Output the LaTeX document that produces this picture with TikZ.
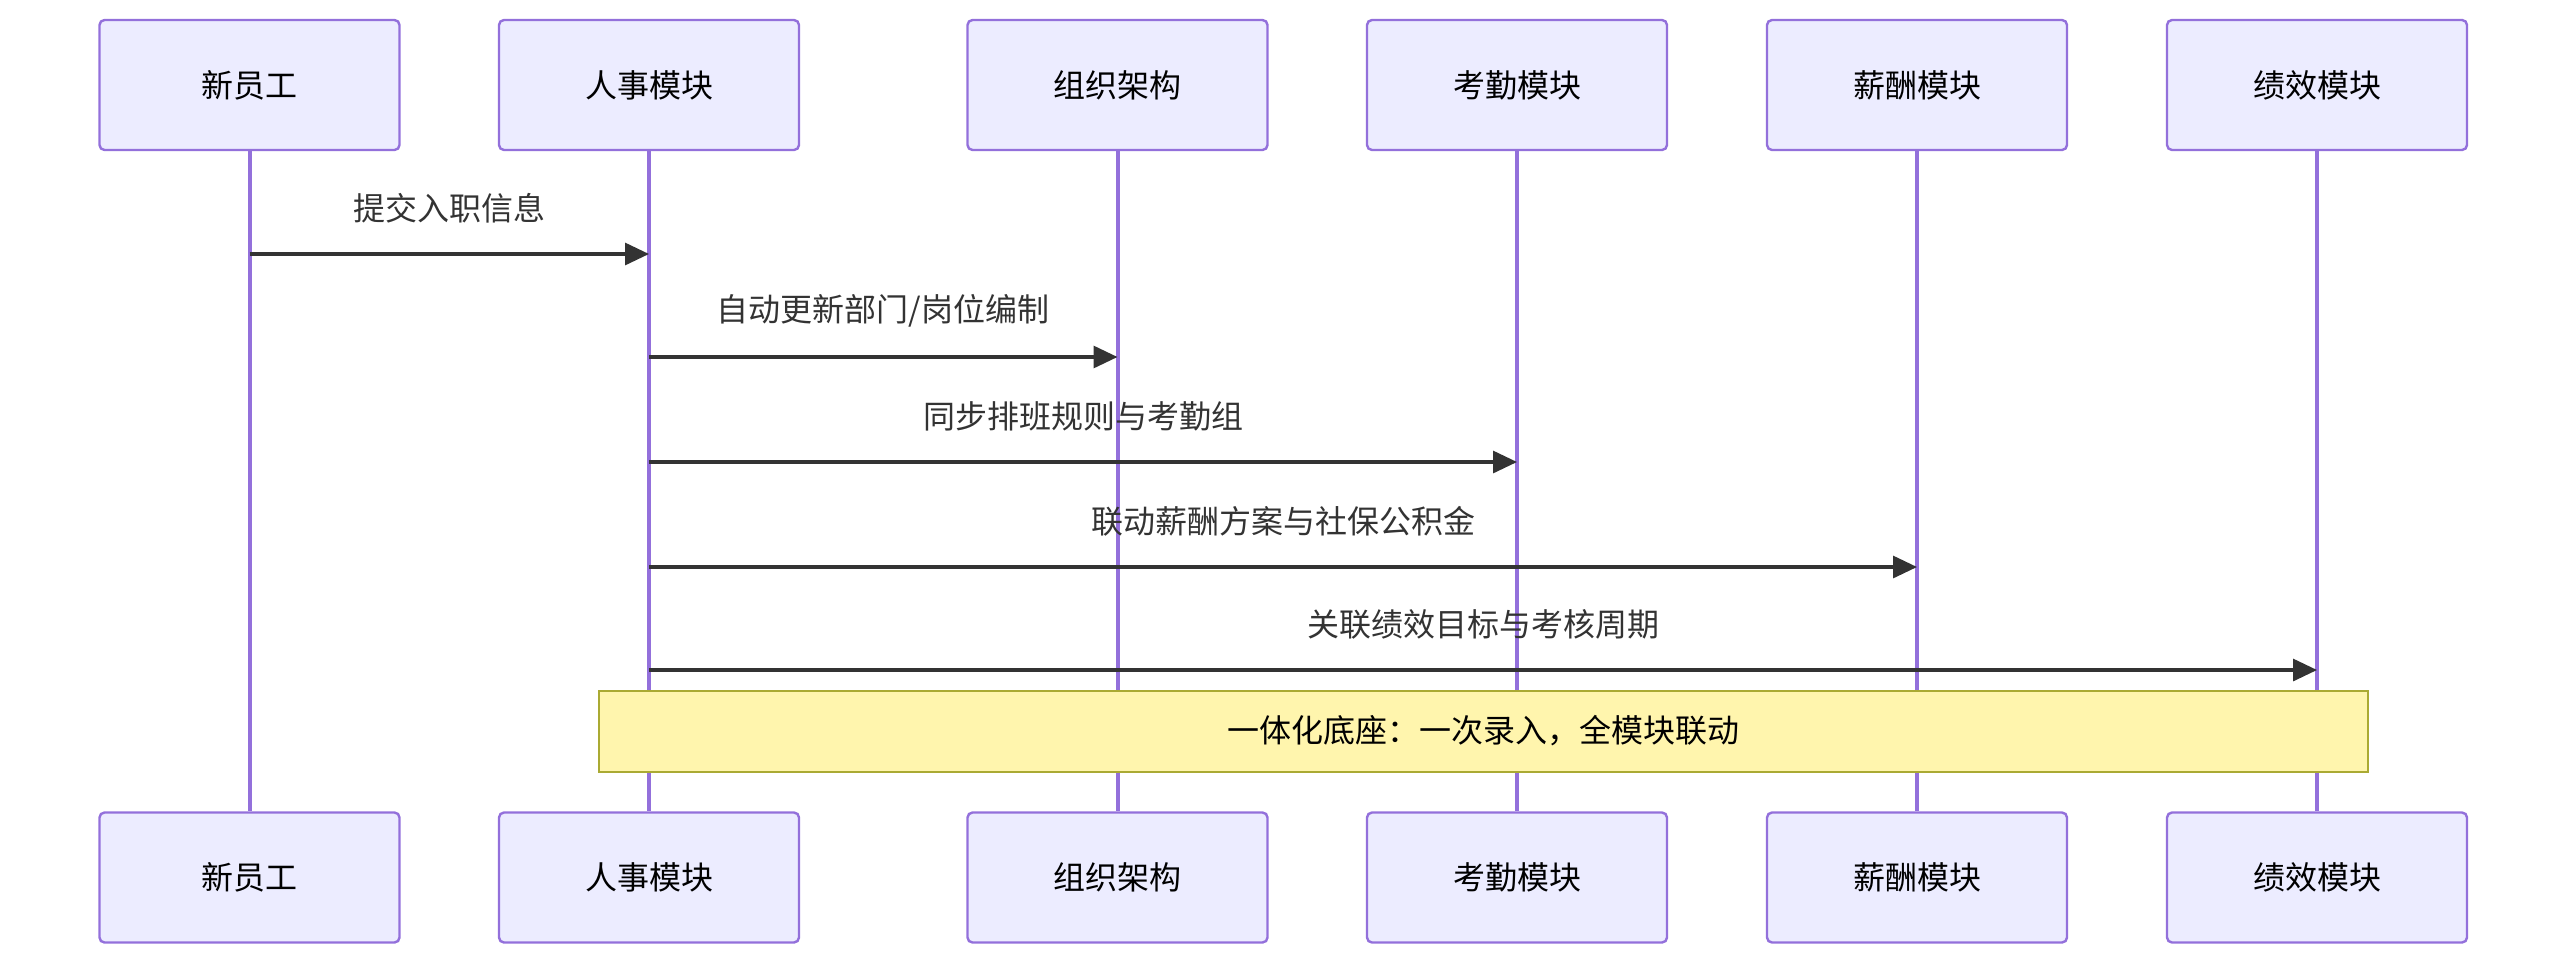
\documentclass[tikz,border=0pt]{standalone}
\usepackage{fontspec}
\newfontfamily\cjk{Noto Sans CJK SC}
\usepackage{xcolor}
\definecolor{actfill}{HTML}{ECECFF}
\definecolor{actline}{HTML}{9370DB}
\definecolor{msgcol}{HTML}{333333}
\definecolor{notefill}{HTML}{FFF5AD}
\definecolor{noteline}{HTML}{AAAA33}
\usetikzlibrary{arrows.meta,positioning}
\begin{document}
\begin{tikzpicture}[x=0.5pt,y=-0.5pt,>={Triangle[length=12pt,width=11pt]}]
\tikzset{
 actor/.style={draw=actline,line width=1.2pt,rounded corners=2.5pt,fill=actfill,minimum width=150pt,minimum height=65pt,align=center,font=\cjk\fontsize{16}{19}\selectfont},
 life/.style={draw=actline,line width=2pt},
 msg/.style={->,draw=msgcol,line width=1.6pt},
 lbl/.style={text=msgcol,yshift=23pt,font=\cjk\fontsize{16}{19}\selectfont},
 notebox/.style={draw=noteline,line width=1pt,fill=notefill,minimum width=884.5pt,minimum height=40.5pt,font=\cjk\fontsize{16}{19}\selectfont}
}
\useasboundingbox (0,0) rectangle (2568,964);
\node[actor] (emp) at (249.5,85) {新员工};
\node[actor] (hr) at (649,85) {人事模块};
\node[actor] (org) at (1117.5,85) {组织架构};
\node[actor] (att) at (1517,85) {考勤模块};
\node[actor] (pay) at (1917,85) {薪酬模块};
\node[actor] (perf) at (2317,85) {绩效模块};
\node[actor] (emp2) at (249.5,877.5) {新员工};
\node[actor] (hr2) at (649,877.5) {人事模块};
\node[actor] (org2) at (1117.5,877.5) {组织架构};
\node[actor] (att2) at (1517,877.5) {考勤模块};
\node[actor] (pay2) at (1917,877.5) {薪酬模块};
\node[actor] (perf2) at (2317,877.5) {绩效模块};
\draw[life] (emp) -- (emp2);
\draw[life] (hr) -- (hr2);
\draw[life] (org) -- (org2);
\draw[life] (att) -- (att2);
\draw[life] (pay) -- (pay2);
\draw[life] (perf) -- (perf2);
\draw[msg] (emp |- 0,254) -- node[lbl] {提交入职信息} (hr |- 0,254);
\draw[msg] (hr |- 0,357) -- node[lbl] {自动更新部门/岗位编制} (org |- 0,357);
\draw[msg] (hr |- 0,462) -- node[lbl] {同步排班规则与考勤组} (att |- 0,462);
\draw[msg] (hr |- 0,567) -- node[lbl] {联动薪酬方案与社保公积金} (pay |- 0,567);
\draw[msg] (hr |- 0,670) -- node[lbl] {关联绩效目标与考核周期} (perf |- 0,670);
\node[notebox] (base) at (1483.5,731) {一体化底座：一次录入，全模块联动};
\end{tikzpicture}
\end{document}
